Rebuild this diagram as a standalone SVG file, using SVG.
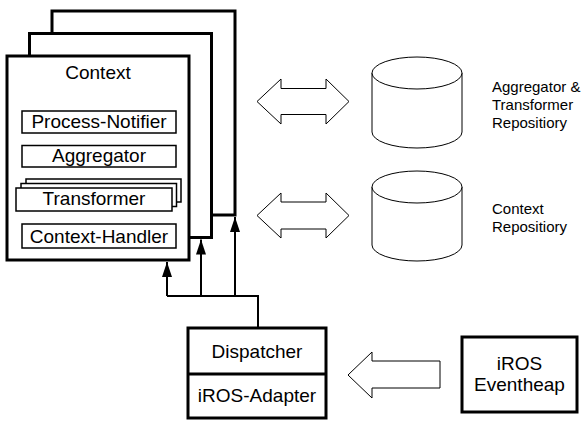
<svg xmlns="http://www.w3.org/2000/svg" width="588" height="421" viewBox="0 0 588 421">
<defs>
<marker id="ah" markerUnits="userSpaceOnUse" markerWidth="15" markerHeight="10" refX="15" refY="5" orient="auto">
<path d="M0,0 L15,5 L0,10 z" fill="#000"/>
</marker>
</defs>
<style>
.frame{fill:#fff;stroke:#000;stroke-width:3}
.inner{fill:#fff;stroke:#000;stroke-width:1.5}
.thin{fill:#fff;stroke:#000;stroke-width:1}
.conn{fill:none;stroke:#000;stroke-width:2}
text{font-family:"Liberation Sans",Arial,sans-serif;fill:#000}
.t19{font-size:19px;text-anchor:middle}
.t15{font-size:15px}
</style>
<rect width="588" height="421" fill="#fff"/>
<g id="context">
<rect class="frame" x="52" y="11" width="183" height="204"/>
<rect class="frame" x="29.5" y="33.5" width="182" height="204"/>
<rect class="frame" x="7" y="56" width="182" height="204"/>
<text class="t19" x="98" y="79">Context</text>
<g id="process-notifier">
<rect class="inner" x="22" y="111" width="154" height="22"/>
<text class="t19" x="99" y="128">Process-Notifier</text>
</g>
<g id="aggregator">
<rect class="inner" x="22" y="145.5" width="154" height="21.5"/>
<text class="t19" x="99" y="162">Aggregator</text>
</g>
<g id="transformer">
<rect class="inner" x="26" y="179" width="155" height="23"/>
<rect class="inner" x="21" y="183.5" width="155.5" height="23"/>
<rect class="inner" x="16" y="188" width="156" height="23"/>
<text class="t19" x="94" y="205">Transformer</text>
</g>
<g id="context-handler">
<rect class="inner" x="22" y="224" width="154" height="24"/>
<text class="t19" x="99" y="243">Context-Handler</text>
</g>
</g>
<g id="connectors">
<path class="conn" d="M258,328 V296 H167"/>
<line class="conn" x1="167" y1="296" x2="167" y2="262" marker-end="url(#ah)"/>
<line class="conn" x1="201" y1="296" x2="201" y2="239.5" marker-end="url(#ah)"/>
<line class="conn" x1="235" y1="296" x2="235" y2="217" marker-end="url(#ah)"/>
<path class="thin" d="M257,101.5 L281,79 V88.5 H326 V79 L349,101.5 L326,124 V114.5 H281 V124 Z"/>
<path class="thin" d="M257,215.5 L281,193 V202 H326 V193 L349,215.5 L326,238 V229 H281 V238 Z"/>
<path class="thin" d="M348,375 L372,352 V361 H440 V388 H372 V398 Z"/>
</g>
<g id="repo1">
<path class="thin" d="M372,73 V132 A45,16 0 0 0 462,132 V73"/>
<ellipse class="thin" cx="417" cy="73" rx="45" ry="16"/>
<text class="t15" x="492" y="92">Aggregator &amp;</text>
<text class="t15" x="492" y="110">Transformer</text>
<text class="t15" x="492" y="128">Repositiory</text>
</g>
<g id="repo2">
<path class="thin" d="M372,187 V245 A45,16 0 0 0 462,245 V187"/>
<ellipse class="thin" cx="417" cy="187" rx="45" ry="16"/>
<text class="t15" x="492" y="214">Context</text>
<text class="t15" x="492" y="232">Repositiory</text>
</g>
<g id="dispatcher">
<rect class="frame" x="188" y="328" width="138" height="90"/>
<line x1="188" y1="374" x2="326" y2="374" stroke="#000" stroke-width="3"/>
<text class="t19" x="257" y="358">Dispatcher</text>
<text class="t19" x="257" y="402">iROS-Adapter</text>
</g>
<g id="eventheap">
<rect class="frame" x="462" y="337" width="115" height="75"/>
<text class="t19" x="519.5" y="370">iROS</text>
<text class="t19" x="519.5" y="391">Eventheap</text>
</g>
</svg>
